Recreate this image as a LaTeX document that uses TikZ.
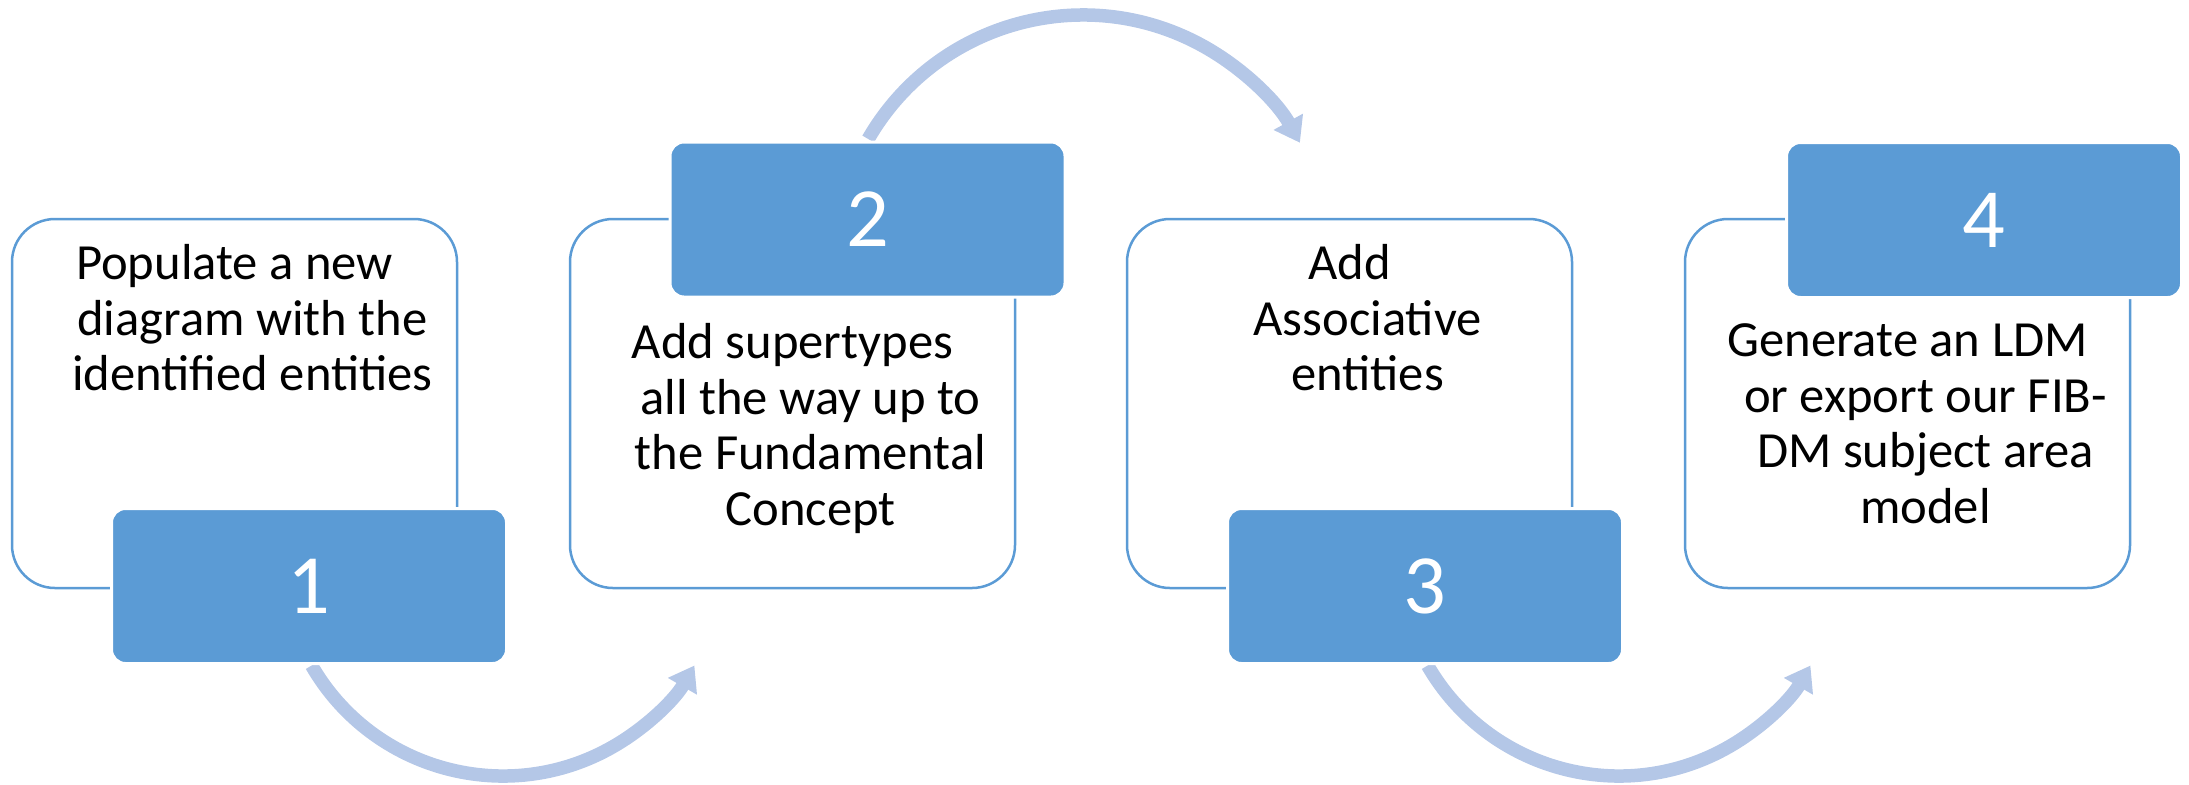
\documentclass[tikz,border=0pt]{standalone}
\usepackage{fontspec}
\setmainfont{Carlito}
\usetikzlibrary{arrows.meta}

\definecolor{stepblue}{HTML}{5B9BD5}
\definecolor{arcblue}{HTML}{B4C7E7}

\tikzset{
    textbox/.style={draw=stepblue, line width=0.025cm, rounded corners=0.43cm,
        minimum width=4.45cm, minimum height=3.69cm},
    numbox/.style={fill=stepblue, draw=white, line width=0.03cm, rounded corners=0.14cm,
        minimum width=3.95cm, minimum height=1.55cm, text=white,
        font=\fontsize{24}{28}\selectfont},
    steptext/.style={align=center, inner sep=0pt, anchor=north,
        font=\fontsize{14.4}{15.8}\selectfont},
    turn/.style={draw=arcblue, line width=0.135cm,
        -{Triangle[width=0.32cm,length=0.24cm]}}
}

\begin{document}
\begin{tikzpicture}
    \useasboundingbox (0,0) rectangle (21.89,7.84);

    \node[textbox] (b1) at (2.345,3.805) {};
    \node[textbox] (b2) at (7.925,3.805) {};
    \node[textbox] (b3) at (13.495,3.805) {};
    \node[textbox] (b4) at (19.075,3.805) {};

    \node[steptext] (t1) at (2.525,5.40) {Populate a new\rule{0.36cm}{0pt}\\diagram with the\\identified entities};
    \node[steptext] (t2) at (8.105,4.61) {Add supertypes\rule{0.36cm}{0pt}\\all the way up to\\the Fundamental\\Concept};
    \node[steptext] (t3) at (13.675,5.40) {Add\rule{0.36cm}{0pt}\\Associative\\entities};
    \node[steptext] (t4) at (19.255,4.61) {Generate an LDM\rule{0.36cm}{0pt}\\or export our FIB-\\DM subject area\\model};

    \coordinate (a1) at (3.116,1.185);
    \coordinate (a2) at (8.682,6.45);
    \coordinate (a3) at (14.276,1.185);

    \draw[turn] (a1) arc[start angle=210, end angle=330, radius=2.21];
    \draw[turn] (a2) arc[start angle=150, end angle=29, radius=2.48];
    \draw[turn] (a3) arc[start angle=210, end angle=330, radius=2.21];

    \node[numbox] (n1) at (3.09,1.98) {1};
    \node[numbox] (n2) at (8.675,5.645) {2};
    \node[numbox] (n3) at (14.25,1.98) {3};
    \node[numbox] (n4) at (19.84,5.64) {4};
\end{tikzpicture}
\end{document}
